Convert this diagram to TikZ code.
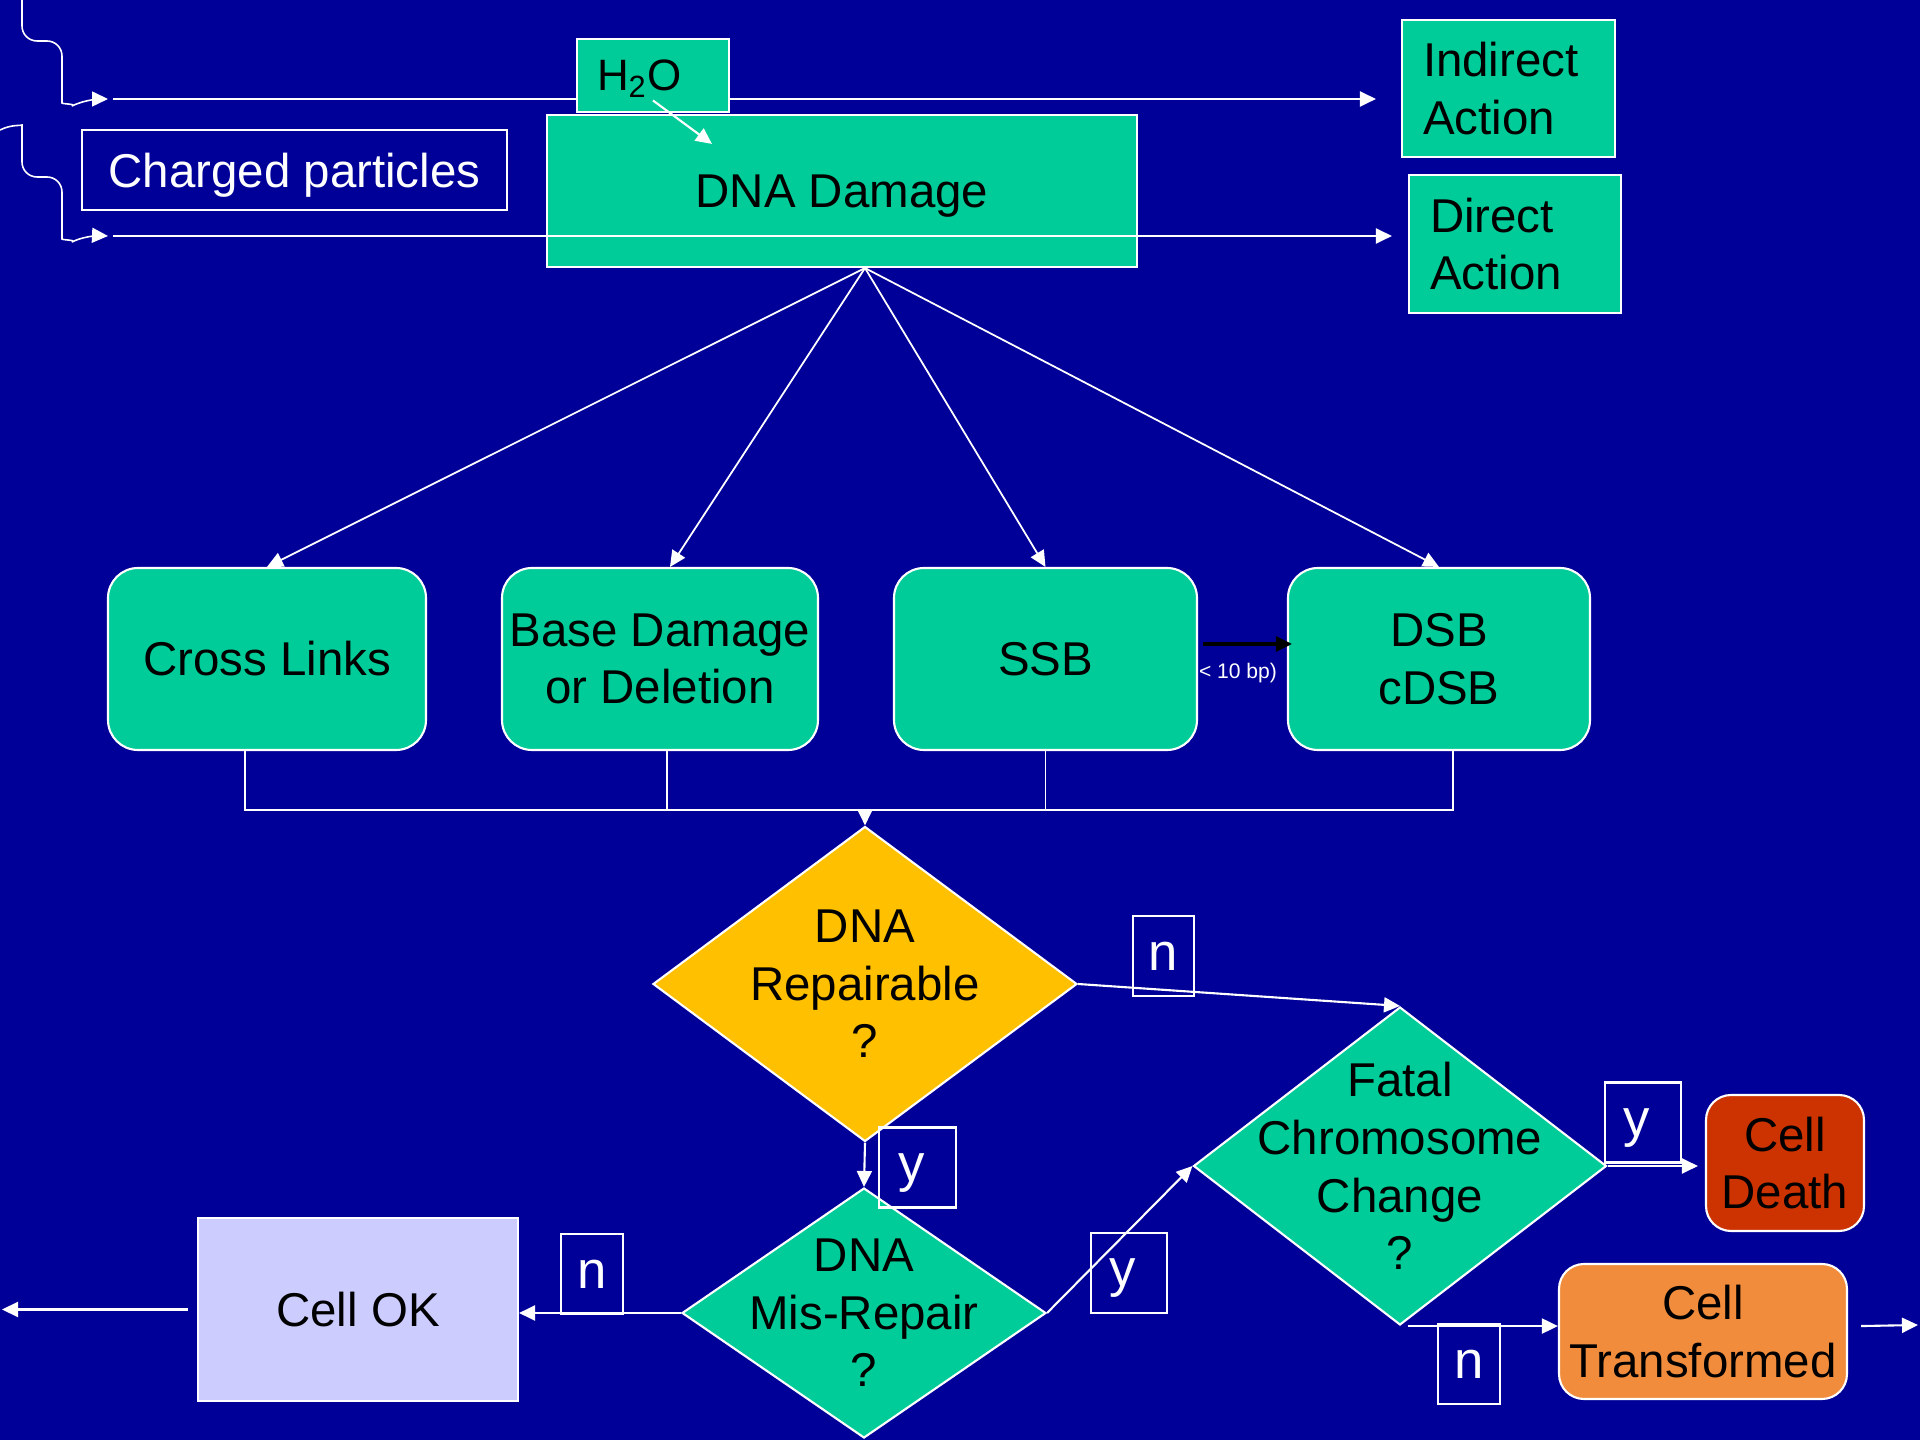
\documentclass[tikz,border=0pt]{standalone}
\usepackage{fontspec}
\setmainfont{Liberation Sans}
\usetikzlibrary{arrows.meta,shapes.geometric}

\definecolor{bgblue}{RGB}{0,0,153}
\definecolor{dnagreen}{RGB}{0,204,153}
\definecolor{repyellow}{RGB}{255,192,0}
\definecolor{deathred}{RGB}{204,51,0}
\definecolor{transorange}{RGB}{240,140,60}
\definecolor{okblue}{RGB}{204,204,255}

\begin{document}
\begin{tikzpicture}[
  x=0.1mm, y=-0.1mm,
  >={Triangle[length=1.6mm,width=1.5mm]},
  every node/.style={font=\fontsize{13.5}{16.4}\selectfont},
  dnabox/.style={draw=white,line width=0.6pt,fill=dnagreen,inner sep=0pt,align=center},
  lesion/.style={dnabox,rounded corners=3mm,minimum height=18.2mm},
  query/.style={diamond,draw=white,line width=0.6pt,inner sep=0pt},
  answer/.style={draw=white,line width=0.6pt,text=white,inner sep=0pt,
    minimum height=8mm,text depth=0pt,font=\fontsize{15}{18}\selectfont},
  link/.style={->,white,line width=0.6pt},
  wire/.style={white,line width=0.5pt},
  ray/.style={->,white,line width=0.45pt,rounded corners=1.5mm}
]
  \useasboundingbox (0,0) rectangle (1920,1440);
  \fill[bgblue] (0,0) rectangle (1920,1440);

  % incoming radiation
  \draw[ray] (22,0) |- (62,41) -- (62,88) .. controls (62,104) and (76,104) .. (86,99) -- (108,99);
  \draw[ray] (0,130) .. controls (12,124) and (22,126) .. (22,140) |- (62,177) -- (62,224)
    .. controls (62,240) and (76,240) .. (86,235) -- (108,236);
  \coordinate (ray1) at (113,99);
  \coordinate (ray2) at (113,236);

  \node[dnabox,align=left,text width=17.1mm,inner xsep=2.1mm,minimum height=13.7mm] (ind) at (1508.5,88.5) {Indirect\\Action};
  \node[dnabox,align=left,text width=17mm,inner xsep=2.1mm,minimum height=13.8mm] (dir) at (1515,244) {Direct\\Action};
  \node[dnabox,text depth=0pt,minimum width=59mm,minimum height=15.2mm] (dna) at (842,191) {DNA Damage};

  \draw[link,shorten >=2.5mm] (ray1) -- (ray1 -| ind.west);
  \node[dnabox,align=left,text width=11.2mm,inner xsep=2mm,minimum height=7.3mm,text depth=0pt,
        font=\fontsize{12.5}{15}\selectfont] (h2o) at (653,75.5) {H\textsubscript{2}O};
  \draw[link,shorten >=1.6mm] (ray2) -- (ray2 -| dir.west);
  \draw[link] ([yshift=-2.5mm]h2o.center) -- ([xshift=16.6mm,yshift=-3mm]dna.north west);

  \node[draw=white,line width=0.6pt,text=white,text depth=0pt,minimum width=42.5mm,minimum height=8mm] (charged) at (294.5,170) {Charged particles};

  % lesions
  \node[lesion,minimum width=31.8mm] (cross) at (267,659) {Cross Links};
  \node[lesion,minimum width=31.6mm] (base) at (660,659) {Base Damage\\or Deletion};
  \node[lesion,minimum width=30.3mm] (ssb) at (1045.5,659) {SSB};
  \node[lesion,minimum width=30.2mm] (dsb) at (1439,659) {DSB\\cDSB};

  \coordinate (fan) at ([xshift=2.3mm]dna.south);
  \draw[link,line width=0.5pt] (fan) -- (cross.north);
  \draw[link,line width=0.5pt] (fan) -- ([xshift=1mm]base.north);
  \draw[link,line width=0.5pt] (fan) -- (ssb.north);
  \draw[link,line width=0.5pt] (fan) -- (dsb.north);

  \draw[->,black,line width=0.9pt] ([xshift=0.5mm,yshift=1.5mm]ssb.east) -- ([xshift=0.5mm,yshift=1.5mm]dsb.west);
  \node[text=white,inner sep=0pt,font=\fontsize{6}{7}\selectfont] (gap) at (1238,673) {< 10 bp)};

  \coordinate (merge) at (865,810);
  \draw[wire] ([xshift=-2.2mm]cross.south) |- (merge);
  \draw[wire] ([xshift=1.4mm]dsb.south) |- (merge);
  \draw[wire] ([xshift=0.7mm]base.south) -- ++(0,60);
  \draw[wire] (ssb.south) -- ++(0,60);

  % decisions
  \node[query,fill=repyellow,minimum width=42.4mm,minimum height=31.5mm,
        label={[align=center]center:DNA\\Repairable\\?}] (rep) at (865,984) {};
  \node[query,fill=dnagreen,minimum width=36.4mm,minimum height=25mm,
        label={[align=center]center:DNA\\Mis-Repair\\?}] (mis) at (864,1313) {};
  \node[query,fill=dnagreen,minimum width=41.3mm,minimum height=31.8mm,
        label={[align=center]center:Fatal\\Chromosome\\Change\\?}] (fatal) at (1400,1166) {};

  \draw[link] (merge) -- (rep.north);

  % outcomes
  \node[draw=white,line width=0.6pt,fill=okblue,minimum width=32mm,minimum height=18.3mm] (ok) at (358,1309.5) {Cell OK};
  \node[dnabox,fill=deathred,rounded corners=2.5mm,minimum width=15.8mm,minimum height=13.6mm] (death) at (1785,1163) {Cell\\Death};
  \node[dnabox,fill=transorange,rounded corners=2.5mm,minimum width=28.8mm,minimum height=13.5mm] (trans) at (1703,1331.5) {Cell\\Transformed};
  \coordinate (exitL) at (2,1309.5);
  \coordinate (exitR) at (1918,1325);

  \draw[link] (rep.south) -- (mis.north);
  \draw[link] (rep.east) -- (fatal.north);
  \draw[link] (mis.west) -- (mis.west -| ok.east);
  \draw[link] (mis.east) -- (fatal.west);
  \draw[link,shorten >=0.7mm] (fatal.east) -- (fatal.east -| death.west);
  \draw[link,shorten <=0.8mm] (fatal.south) -- (fatal.south -| trans.west);
  \draw[link] (ok.west) ++(-9,0) -- (exitL);
  \draw[link] (trans.east |- fatal.south) ++(13,0) -- (exitR);

  % answers
  \node[answer,minimum width=7.7mm] (yrep) at (917.5,1167.5) {y\kern1.2mm};
  \node[answer,minimum width=6.1mm] (nrep) at (1163.5,956) {n};
  \node[answer,minimum width=6.2mm] (nmis) at (592,1274) {n};
  \node[answer,minimum width=7.6mm] (ymis) at (1129,1273) {y\kern1.2mm};
  \node[answer,minimum width=7.6mm] (yfat) at (1643,1122.5) {y\kern1.2mm};
  \node[answer,minimum width=6.2mm] (nfat) at (1469,1364) {n};
\end{tikzpicture}
\end{document}
